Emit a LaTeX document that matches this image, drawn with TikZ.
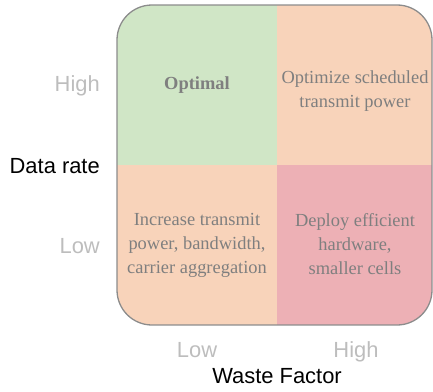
\documentclass[tikz,border=0pt]{standalone}
\usepackage{fontspec}
\setmainfont{Liberation Serif}
\setsansfont{Liberation Sans}
\definecolor{goodfill}{HTML}{D0E6C6}
\definecolor{midfill}{HTML}{F8D3BA}
\definecolor{badfill}{HTML}{EDB0B5}
\definecolor{framegray}{HTML}{8C8C8C}
\definecolor{celltext}{HTML}{7F7F7F}
\definecolor{ticktext}{HTML}{BDBDBD}
% first-line strut so that a cell's north anchor sits 14bp above its first baseline
\newcommand{\cellstrut}{\rule{0pt}{14bp}}
\tikzset{
  celllabel/.style={text=celltext, align=center, inner sep=0pt, anchor=north,
    font=\fontsize{18.5}{24}\selectfont},
  ticklabel/.style={text=ticktext, inner sep=0pt,
    font=\sffamily\fontsize{22}{26}\selectfont},
  axislabel/.style={text=black, inner sep=0pt,
    font=\sffamily\fontsize{22}{26}\selectfont},
}
\begin{document}
\begin{tikzpicture}[x=1bp,y=1bp]
\useasboundingbox (0,0) rectangle (433,391);
% quadrant fills, clipped to the rounded frame
\begin{scope}
  \clip[rounded corners=35bp] (117,66) rectangle (432,386);
  \fill[goodfill] (117,226) rectangle (277,386);
  \fill[midfill]  (277,226) rectangle (432,386);
  \fill[midfill]  (117,66)  rectangle (277,226);
  \fill[badfill]  (277,66)  rectangle (432,226);
\end{scope}
\draw[framegray, line width=1.3bp, rounded corners=35bp] (117,66) rectangle (432,386);
% cell texts
\node[celllabel, anchor=base, font=\bfseries\fontsize{18.5}{24}\selectfont] (opt) at (197,302) {Optimal};
\node[celllabel] (sched) at (355,322) {\cellstrut Optimize scheduled\\transmit power};
\node[celllabel] (incr) at (197,180) {\cellstrut Increase transmit\\power, bandwidth,\\carrier aggregation};
\node[celllabel] (depl) at (355,179) {\cellstrut Deploy efficient\\hardware,\\smaller cells};
% vertical axis
\node[ticklabel, anchor=base east] (yhigh) at (100,300) {High};
\node[axislabel, anchor=base east] (ylab) at (100,218) {Data rate};
\node[ticklabel, anchor=base east] (ylow) at (100,138) {Low};
% horizontal axis
\node[ticklabel, anchor=base] (xlow) at (197,34) {Low};
\node[ticklabel, anchor=base] (xhigh) at (356,34) {High};
\node[axislabel, anchor=base] (xlab) at (277,8) {Waste Factor};
\end{tikzpicture}
\end{document}
